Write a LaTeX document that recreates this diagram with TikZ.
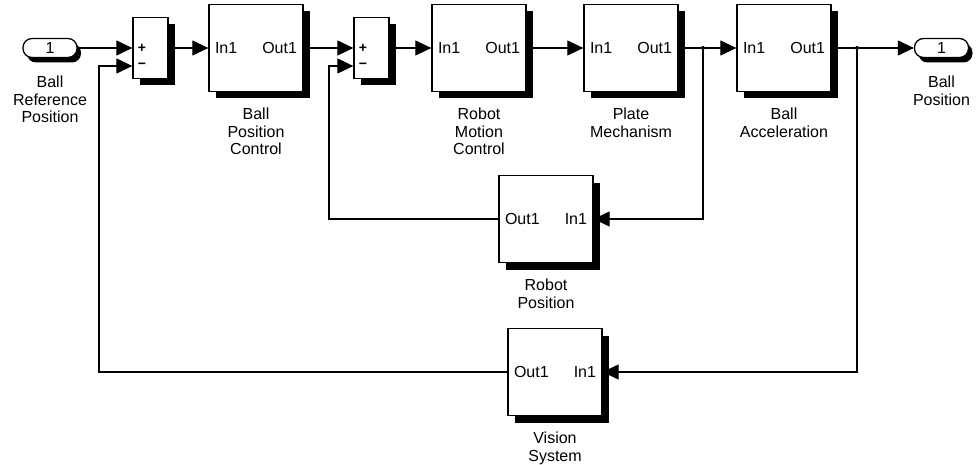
\documentclass[tikz,border=0pt]{standalone}
\usepackage{fontspec}
\setmainfont{Liberation Sans}
\usetikzlibrary{positioning, shadows, arrows.meta, calc}
\newcommand{\blkports}[2]{\makebox[82pt]{#1\hfill #2}}

\begin{document}
\begin{tikzpicture}[x=1pt, y=-1pt,
  font=\fontsize{16}{17.5}\selectfont,
  blk/.style={draw, line width=1.3pt, fill=white, minimum width=94pt, minimum height=87pt,
    inner sep=0pt, drop shadow={shadow xshift=7pt, shadow yshift=-7pt, fill=black, opacity=1}},
  sumblk/.style={blk, minimum width=35pt, minimum height=61pt},
  portblk/.style={draw, line width=1.3pt, fill=white, rounded corners=9pt, minimum width=54pt,
    minimum height=19pt, inner sep=0pt,
    drop shadow={shadow xshift=4pt, shadow yshift=-5pt, fill=black, opacity=1}},
  caption/.style={align=center, inner sep=0pt},
  sign/.style={font=\fontsize{14}{14}\selectfont\bfseries, inner sep=0pt},
  sig/.style={line width=1.2pt, -{Triangle[length=16pt, width=15pt]}},
  wire/.style={line width=1.2pt},
  dot/.style={circle, fill=black, minimum size=4pt, inner sep=0pt}]
  \useasboundingbox (0,0) rectangle (976,465);

  % Forward path
  \node (in1) [portblk] at (50,48) {1};
  \node (s1) [sumblk] at (150.5,48) {};
  \node (s1p) [sign] at (142,48) {+};
  \node (s1m) [sign] at (142,66) {−};
  \node (bpc) [blk] at (256,48) {\blkports{In1}{Out1}};
  \node (s2) [sumblk] at (371.5,48) {};
  \node (s2p) [sign] at (363,48) {+};
  \node (s2m) [sign] at (363,66) {−};
  \node (rmc) [blk] at (479,48) {\blkports{In1}{Out1}};
  \node (pm) [blk] at (631,48) {\blkports{In1}{Out1}};
  \node (ba) [blk] at (784,48) {\blkports{In1}{Out1}};
  \node (out1) [portblk] at (941.5,48) {1};

  % Feedback blocks
  \node (rp) [blk] at (546,219) {\blkports{Out1}{In1}};
  \node (vs) [blk] at (555,372) {\blkports{Out1}{In1}};

  % Names under the blocks
  \node (in1L) [caption, below=18pt of in1] {Ball\\Reference\\Position};
  \node (bpcL) [caption, below=16pt of bpc] {Ball\\Position\\Control};
  \node (rmcL) [caption, below=16pt of rmc] {Robot\\Motion\\Control};
  \node (pmL) [caption, below=16pt of pm] {Plate\\Mechanism};
  \node (baL) [caption, below=16pt of ba] {Ball\\Acceleration};
  \node (out1L) [caption, below=18pt of out1] {Ball\\Position};
  \node (rpL) [caption, below=16pt of rp] {Robot\\Position};
  \node (vsL) [caption, below=16pt of vs] {Vision\\System};

  % Branch points and loop corners
  \node (br1) [dot] at (703,48) {};
  \node (br2) [dot] at (857,48) {};
  \coordinate (fb1) at (99,66);
  \coordinate (fb2) at (329,66);

  % Signals
  \draw[sig] (in1) -- (s1.west |- s1p);
  \draw[sig] (s1) -- (bpc);
  \draw[sig] (bpc) -- (s2.west |- s2p);
  \draw[sig] (s2) -- (rmc);
  \draw[sig] (rmc) -- (pm);
  \draw[wire] (pm) -- (br1);
  \draw[sig] (br1) -- (ba);
  \draw[wire] (ba) -- (br2);
  \draw[sig] (br2) -- (out1);
  \draw[sig] (br1) |- (rp);
  \draw[sig] (br2) |- (vs);
  \draw[sig] (rp) -| (fb2) -- (s2.west |- s2m);
  \draw[sig] (vs) -| (fb1) -- (s1.west |- s1m);
\end{tikzpicture}
\end{document}
